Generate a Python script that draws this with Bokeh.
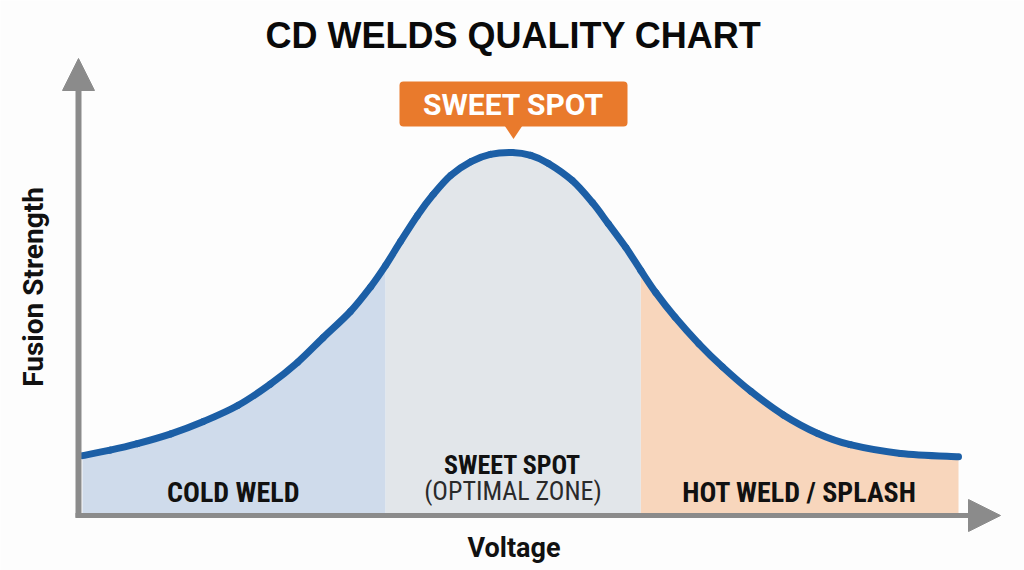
import numpy as np
from bokeh.plotting import figure
from bokeh.models import Range1d, Arrow, NormalHead
from bokeh.core.properties import value
from bokeh.embed import file_html
from bokeh.resources import INLINE

# ---------------- data ----------------
voltage = [0.45, 3.6, 6.7, 10.5, 14.2, 18.1, 21.8, 24.9, 27.8, 30.9, 33.2, 34.9,
           36.6, 38.5, 40.3, 42.3, 44.6, 46.8, 49.3, 51.4, 53.4, 56.1, 58.4, 60.2,
           62.2, 63.9, 65.6, 67.8, 70.5, 73.2, 76.4, 80.1, 84.0, 87.7, 93.4, 100.0]
strength = [16.5, 18.0, 19.8, 22.5, 25.9, 30.3, 36.2, 42.2, 49.0, 56.2, 63.0, 68.9,
            75.5, 82.6, 88.4, 93.7, 97.5, 99.5, 100.0, 99.2, 97.0, 92.3, 86.2, 80.4,
            73.8, 67.5, 61.4, 54.6, 47.3, 40.9, 34.2, 27.7, 22.6, 19.5, 17.1, 16.2]

zone_edges = [0.45, 34.9, 63.9, 100.0]
zone_names = ["COLD WELD", "SWEET SPOT", "HOT WELD / SPLASH"]
zone_sub = ["", "(OPTIMAL ZONE)", ""]
zone_colors = ["#cfdbeb", "#e2e6ea", "#f8d6bc"]

title_text = "CD WELDS QUALITY CHART"
x_label = "Voltage"
y_label = "Fusion Strength"
callout_text = "SWEET SPOT"

# ---------------- layout helpers (page pixels -> data) ----------------
W, H = 1024, 570
OX, OY = 78, 515          # px of origin
SX, SY = 8.8, 3.63        # px per data unit


def dx(px):
    return (px - OX) / SX


def dy(py):
    return (OY - py) / SY


p = figure(width=W, height=H, output_backend="svg", toolbar_location=None,
           x_axis_type=None, y_axis_type=None, min_border=0,
           x_range=Range1d(-OX / SX, (W - OX) / SX),
           y_range=Range1d((OY - H) / SY, OY / SY))
p.outline_line_color = None
p.background_fill_color = "#fdfdfd"
p.border_fill_color = "#fdfdfd"

v = np.array(voltage)
s = np.array(strength)

for i in range(3):
    lo, hi = zone_edges[i], zone_edges[i + 1]
    m = (v >= lo) & (v <= hi)
    p.varea(x=v[m], y1=0, y2=s[m], fill_color=zone_colors[i])

# smooth curve through the read points (Catmull-Rom segments drawn as Beziers)
vp = np.concatenate([[v[0]], v, [v[-1]]])
sp = np.concatenate([[s[0]], s, [s[-1]]])
x0, y0 = vp[1:-2], sp[1:-2]
x1, y1 = vp[2:-1], sp[2:-1]
cx0 = vp[1:-2] + (vp[2:-1] - vp[:-3]) / 6.0
cy0 = sp[1:-2] + (sp[2:-1] - sp[:-3]) / 6.0
cx1 = vp[2:-1] - (vp[3:] - vp[1:-2]) / 6.0
cy1 = sp[2:-1] - (sp[3:] - sp[1:-2]) / 6.0
p.bezier(x0=x0, y0=y0, x1=x1, y1=y1, cx0=cx0, cy0=cy0, cx1=cx1, cy1=cy1,
         line_color="#1c5fa6", line_width=7, line_cap="round")

axis_col = "#8b8b8b"
p.add_layout(Arrow(x_start=dx(75), y_start=0, x_end=dx(1000), y_end=0,
                   line_color=axis_col, line_width=5,
                   end=NormalHead(size=32, fill_color=axis_col, line_color=axis_col, line_width=1)))
p.add_layout(Arrow(x_start=0, y_start=dy(517), x_end=0, y_end=dy(58),
                   line_color=axis_col, line_width=6,
                   end=NormalHead(size=32, fill_color=axis_col, line_color=axis_col, line_width=1)))

cond = value("Roboto Condensed")
rob = value("Roboto")


def label(px, py, txt, font, size, color="#111111", bold=True, angle=0.0):
    p.text(x=[dx(px)], y=[dy(py)], text=[txt], text_font=font,
           text_font_style="bold" if bold else "normal", text_font_size=size,
           text_align="center", text_baseline="middle", text_color=color, angle=angle)


# zone labels
label(232.8, 491.7, zone_names[0], cond, "28px")
label(799, 492.2, zone_names[2], cond, "28px")
label(512, 464.2, zone_names[1], cond, "26px")
label(512.5, 490.0, zone_sub[1], cond, "26px", color="#2a2a2a", bold=False)

# callout
orange = "#e97a2c"
p.quad(left=[dx(399)], right=[dx(627)], top=[dy(81)], bottom=[dy(126)],
       fill_color=orange, line_color=None, border_radius=4)
p.patch(x=[dx(504), dx(522), dx(513)], y=[dy(125), dy(125), dy(138.5)],
        fill_color=orange, line_color=None)
label(513, 103.8, callout_text, rob, "30px", color="#ffffff")

# title and axis labels
label(513, 34.6, title_text, value("Liberation Sans"), "36px", color="#0a0a0a")
label(513.5, 547.3, x_label, rob, "27px")
label(33.3, 286.5, y_label, rob, "28px", angle=np.pi / 2)

open("out.html", "w").write(file_html(p, INLINE))
